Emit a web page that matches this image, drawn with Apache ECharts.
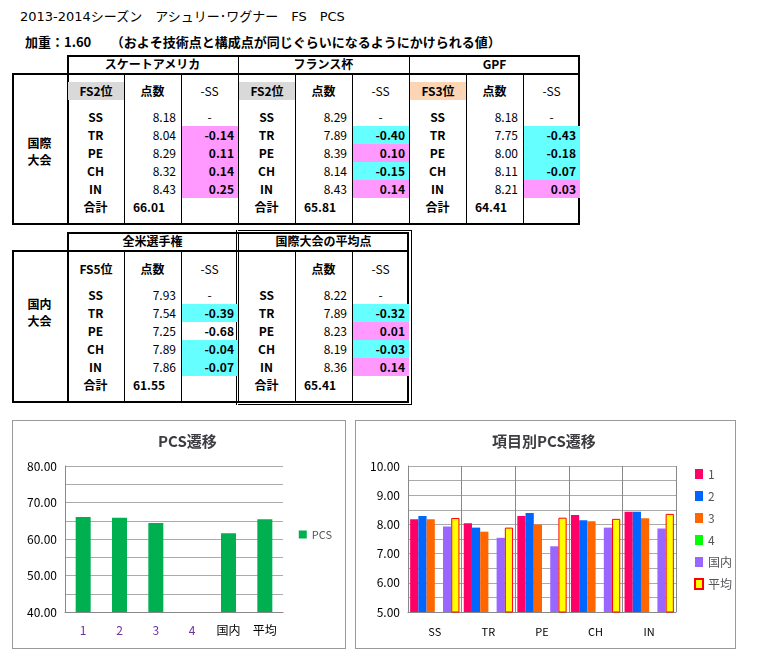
<!doctype html>
<html lang="ja">
<head>
<meta charset="UTF-8">
<title>PCS</title>
<script src="https://cdn.jsdelivr.net/npm/echarts@6/dist/echarts.min.js"></script>
<style>
  body { margin: 0; background: #fff; font-family: "Noto Sans CJK JP", sans-serif; }
  #page { position: relative; width: 770px; height: 655px; }
  .t { position: absolute; font-size: 12px; line-height: 18px; white-space: nowrap; color: #000; }
  .b { font-weight: bold; }
  .ln { position: absolute; background: #000; }
  .box { position: absolute; border: 1px solid #999; box-sizing: border-box; }
</style>
</head>
<body>
<div id="page">
  <div class="t" style="left:20px;top:8px;font-size:13px;font-family:'DejaVu Sans','Noto Sans CJK JP';">2013-2014シーズン　アシュリー･ワグナー　FS　PCS</div>
  <div class="t b" style="left:25px;top:33px;font-size:13px;">加重：1.60　　（およそ技術点と構成点が同じぐらいになるようにかけられる値）</div>
  <div class="box" style="left:12px;top:420px;width:334px;height:229px;"></div>
  <div class="box" style="left:355px;top:420px;width:381px;height:229px;"></div>
  <div id="c1" style="position:absolute;left:13px;top:421px;width:332px;height:227px;"></div>
  <div id="c2" style="position:absolute;left:356px;top:421px;width:379px;height:227px;"></div>
</div>
<script>
  // 表データ
  let items = ['SS', 'TR', 'PE', 'CH', 'IN']
  let events = ['スケートアメリカ', 'フランス杯', 'GPF', '全米選手権', '国際大会の平均点']
  let ranks = ['FS2位', 'FS2位', 'FS3位', 'FS5位', '']
  let scores = [
    [8.18, 8.04, 8.29, 8.32, 8.43],
    [8.29, 7.89, 8.39, 8.14, 8.43],
    [8.18, 7.75, 8.00, 8.11, 8.21],
    [7.93, 7.54, 7.25, 7.89, 7.86],
    [8.22, 7.89, 8.23, 8.19, 8.36]
  ]
  let deltas = [
    ['-0.14', '0.11', '0.14', '0.25'],
    ['-0.40', '0.10', '-0.15', '0.14'],
    ['-0.43', '-0.18', '-0.07', '0.03'],
    ['-0.39', '-0.68', '-0.04', '-0.07'],
    ['-0.32', '0.01', '-0.03', '0.14']
  ]
  // p = ピンク, c = 水色, '' = なし
  let marks = [
    ['p', 'p', 'p', 'p'],
    ['c', 'p', 'c', 'p'],
    ['c', 'c', 'c', 'p'],
    ['c', '', 'c', 'c'],
    ['c', 'p', 'c', 'p']
  ]
  let totals = ['66.01', '65.81', '64.41', '61.55', '65.41']

  // グラフデータ
  let pcsCats = ['1', '2', '3', '4', '国内', '平均']
  let pcsVals = [66.01, 65.81, 64.41, null, 61.55, 65.41]
  let seriesNames = ['1', '2', '3', '4', '国内', '平均']
  let seriesVals = [scores[0], scores[1], scores[2], [null, null, null, null, null], scores[3], scores[4]]
  let seriesColors = ['#ff0066', '#0066ff', '#ff6600', '#00ff00', '#9966ff', '#ffff00']

  let page = document.getElementById('page')
  function text(x, y, w, s, cls, align, bg) {
    let d = document.createElement('div')
    d.className = 't ' + (cls || '')
    d.style.left = x + 'px'
    d.style.top = (y - 9) + 'px'
    d.style.width = w + 'px'
    d.style.textAlign = align || 'center'
    if (bg) d.style.background = bg
    d.textContent = s
    page.appendChild(d)
    return d
  }
  function line(x, y, w, h) {
    let d = document.createElement('div')
    d.className = 'ln'
    d.style.left = x + 'px'; d.style.top = y + 'px'
    d.style.width = w + 'px'; d.style.height = h + 'px'
    page.appendChild(d)
  }

  function block(ev, gx, top, rowTop) {
    text(gx, top + 9, 171, events[ev], 'b')
    let rankBg = ev === 2 ? '#fcd5b4' : (ev < 2 ? '#d9d9d9' : null)
    text(gx + 1, rowTop, 56, ranks[ev], 'b', 'center', rankBg)
    text(gx + 57, rowTop, 57, '点数', 'b')
    text(gx + 114, rowTop, 57, '-SS', '')
    for (let i = 0; i < 5; i++) {
      let y = rowTop + 26 + i * 18
      text(gx, y, 57, items[i], 'b')
      text(gx + 57, y, 52, scores[ev][i].toFixed(2), '', 'right')
      if (i === 0) {
        text(gx + 114, y, 57, '-', '')
      } else {
        let m = marks[ev][i - 1]
        let bg = m === 'p' ? '#ff99ff' : (m === 'c' ? '#66ffff' : null)
        let c = text(gx + 115, y, 56, deltas[ev][i - 1], 'b', 'right', bg)
        c.style.paddingRight = '4px'; c.style.width = '52px'
      }
    }
    let yt = rowTop + 26 + 5 * 18
    text(gx, yt, 57, '合計', 'b')
    text(gx + 57, yt, 50, totals[ev], 'b', 'center')
  }

  // 表1
  let T = 55, H = 73, B = 223
  line(67, T, 513, 2); line(12, H, 568, 2); line(12, B, 568, 2)
  line(12, H, 2, B - H + 2); line(578, T, 2, B - T + 2)
  line(67, T, 2, B - T); line(238, T, 1, B - T); line(409, T, 1, B - T)
  ;[124, 181, 295, 352, 466, 523].forEach(x => line(x, H, 1, B - H))
  for (let g = 0; g < 3; g++) block(g, 67 + 171 * g, T, 91)
  text(12, 143, 55, '国際', 'b'); text(12, 160, 55, '大会', 'b')

  // 表2
  T = 232; H = 250; B = 401
  line(67, T, 342, 2); line(12, H, 397, 2); line(12, B, 397, 2)
  line(12, H, 2, B - H + 2); line(407, T, 2, B - T + 2)
  line(67, T, 2, B - T); line(238, T, 1, B - T)
  ;[124, 181, 295, 352].forEach(x => line(x, H, 1, B - H))
  line(238, 230, 174, 1); line(238, 404, 174, 1); line(411, 230, 1, 175); line(236, 230, 1, 175)
  block(3, 67, T, 269)
  block(4, 238, T, 269)
  text(12, 304, 55, '国内', 'b'); text(12, 321, 55, '大会', 'b')

  // グラフ1
  let font = 'Noto Sans CJK JP'
  let c1 = echarts.init(document.getElementById('c1'))
  c1.setOption({
    animation: false,
    title: { text: 'PCS遷移', left: 140, top: 8, textStyle: { fontSize: 15, fontWeight: 'bold', fontFamily: font } },
    grid: { left: 52, top: 45, width: 218, height: 146 },
    legend: { right: 8, top: 'middle', orient: 'vertical', itemWidth: 8, itemHeight: 8, icon: 'rect',
      textStyle: { fontSize: 11, fontFamily: font } },
    xAxis: { type: 'category', data: pcsCats,
      axisLine: { lineStyle: { color: '#888' } }, axisTick: { show: false },
      axisLabel: { fontSize: 12, margin: 12, fontFamily: font,
        color: (v, i) => i < 4 ? '#7030a0' : '#000' } },
    yAxis: { type: 'value', min: 40, max: 80, interval: 5,
      axisLine: { show: true, lineStyle: { color: '#888' } },
      splitLine: { lineStyle: { color: '#aaa' } },
      axisLabel: { fontSize: 12, color: '#000', fontFamily: font,
        formatter: v => v % 10 === 0 ? v.toFixed(2) : '' } },
    series: [{ name: 'PCS', type: 'bar', data: pcsVals, barWidth: 15, itemStyle: { color: '#00b050' } }]
  })

  // グラフ2
  let c2 = echarts.init(document.getElementById('c2'))
  c2.setOption({
    animation: false,
    title: { text: '項目別PCS遷移', left: 131, top: 8, textStyle: { fontSize: 15, fontWeight: 'bold', fontFamily: font } },
    grid: { left: 52, top: 45, width: 268, height: 146 },
    legend: { left: 333, top: 42, orient: 'vertical', itemWidth: 8, itemHeight: 10, icon: 'rect', itemGap: 10,
      textStyle: { fontSize: 12, fontFamily: font } },
    xAxis: { type: 'category', data: items,
      axisLine: { lineStyle: { color: '#888' } }, axisTick: { show: false },
      splitLine: { show: true, lineStyle: { color: '#888' } },
      axisLabel: { fontSize: 11, margin: 14, color: '#000', fontFamily: font } },
    yAxis: { type: 'value', min: 5, max: 10, interval: 0.5,
      axisLine: { show: true, lineStyle: { color: '#888' } },
      splitLine: { lineStyle: { color: '#aaa' } },
      axisLabel: { fontSize: 12, color: '#000', fontFamily: font,
        formatter: v => v % 1 === 0 ? v.toFixed(2) : '' } },
    series: seriesNames.map((n, k) => ({
      name: n, type: 'bar', data: seriesVals[k], barGap: '0%', barCategoryGap: '8%',
      itemStyle: k === 5 ? { color: seriesColors[k], borderColor: '#ff0000', borderWidth: 1 } : { color: seriesColors[k] }
    }))
  })
</script>
</body>
</html>
